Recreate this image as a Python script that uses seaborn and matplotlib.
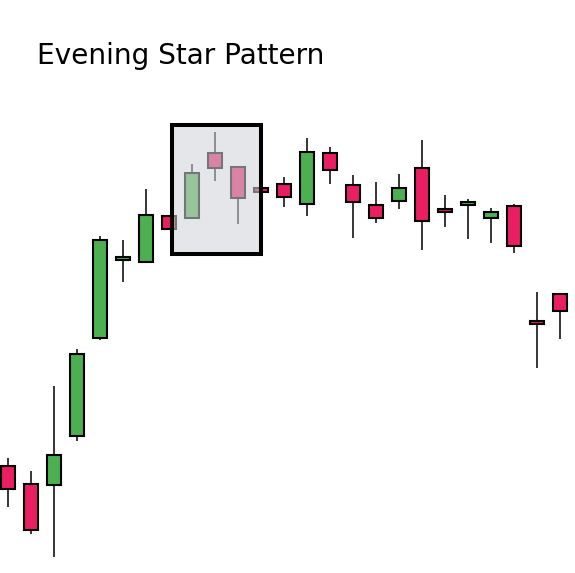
import numpy as np
import pandas as pd
import matplotlib
matplotlib.use("Agg")
import matplotlib.pyplot as plt
import seaborn as sns
from matplotlib.patches import Rectangle

# ----------------------------
# OHLC data (arbitrary price units)
# ----------------------------

opens  = [107,  89,  88, 137, 235, 313, 311, 357, 355, 420, 406, 385, 389,
          369, 420, 388, 368, 372, 405, 364, 368, 355, 367, 252, 279]
highs  = [115, 102, 187, 224, 337, 333, 384, 357, 409, 441, 406, 385, 396,
          435, 426, 398, 391, 399, 433, 378, 374, 365, 369, 281, 280]
lows   = [ 66,  39,  16, 132, 233, 291, 310, 344, 355, 392, 349, 381, 366,
          357, 389, 335, 350, 364, 323, 346, 334, 330, 320, 205, 234]
closes = [ 84,  43, 118, 219, 333, 316, 358, 344, 400, 405, 375, 381, 376,
          421, 403, 371, 355, 385, 352, 361, 371, 361, 327, 249, 262]

title = "Evening Star Pattern"
highlight = (8, 10)   # candles forming the evening star

df = pd.DataFrame({"open": opens, "high": highs, "low": lows, "close": closes})
df["x"] = np.arange(len(df))
df["up"] = df["close"] >= df["open"]

UP = "#4caf50"
DOWN = "#e91e63"

sns.set_style("white")
plt.rcParams["font.family"] = ["DejaVu Sans"]

fig = plt.figure(figsize=(5.75, 5.73), dpi=100)
ax = fig.add_axes([0, 0, 1, 1])

colors = np.where(df["up"], UP, DOWN)
body_low = df[["open", "close"]].min(axis=1)
body_h = (df["open"] - df["close"]).abs()

# wicks
ax.vlines(df["x"], df["low"], df["high"], color="black", linewidth=1.1, zorder=1)

# bodies
ax.bar(df["x"], body_h, bottom=body_low, width=0.61, color=colors,
       edgecolor="black", linewidth=1.5, zorder=2)

# highlight box over the pattern
lo, hi = highlight
sub = df.iloc[lo:hi + 1]
x0, x1 = lo - 0.87, hi + 1.02
y0, y1 = sub["low"].min() - 30, sub["high"].max() + 7
ax.add_patch(Rectangle((x0, y0), x1 - x0, y1 - y0, facecolor=(0.82, 0.83, 0.85),
                       alpha=0.56, edgecolor="none", zorder=3))
ax.add_patch(Rectangle((x0, y0), x1 - x0, y1 - y0, facecolor="none",
                       edgecolor="black", linewidth=2.9, zorder=4))

ax.set_xlim(-8 / 23, 567 / 23)
ax.set_ylim(0, 573)
ax.axis("off")

fig.text(37 / 575, 1 - 56 / 573, title, fontsize=20.2, color="black",
         va="center", ha="left")

plt.savefig("out.png", dpi=100)
